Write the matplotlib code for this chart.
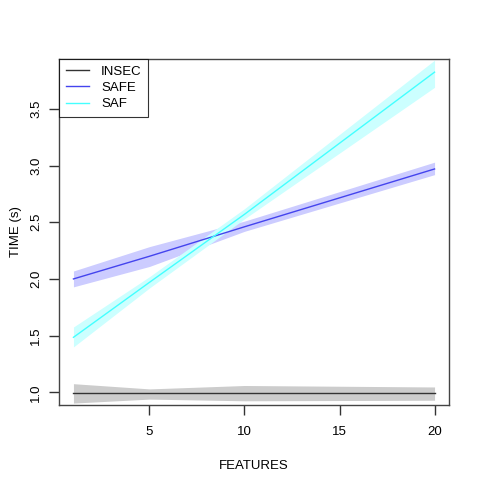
import numpy as np
import matplotlib.pyplot as plt

plt.rcParams['font.family'] = ['Liberation Sans', 'DejaVu Sans']

# data
features = [1, 5, 10, 20]

insec_mean = [0.99, 0.99, 0.99, 0.99]
insec_low = [0.905, 0.94, 0.925, 0.93]
insec_high = [1.076, 1.03, 1.06, 1.047]

safe_mean = [2.00, 2.20, 2.46, 2.97]
safe_low = [1.93, 2.11, 2.42, 2.92]
safe_high = [2.07, 2.285, 2.51, 3.03]

saf_mean = [1.485, 1.97, 2.57, 3.824]
saf_low = [1.40, 1.92, 2.53, 3.69]
saf_high = [1.576, 2.02, 2.62, 3.93]

fig = plt.figure(figsize=(4.8, 4.8), dpi=100)
ax = fig.add_axes([59 / 480, 1 - 405 / 480, 390 / 480, 346 / 480])

ax.fill_between(features, insec_low, insec_high, color='#cccccc', lw=0)
ax.fill_between(features, safe_low, safe_high, color='#ccccff', lw=0)
ax.fill_between(features, saf_low, saf_high, color='#ccffff', lw=0)

ax.plot(features, insec_mean, color='#333333', lw=1, label='INSEC')
ax.plot(features, safe_mean, color='#4444ee', lw=1, label='SAFE')
ax.plot(features, saf_mean, color='#44ffff', lw=1, label='SAF')

ax.set_xlim(0.24, 20.76)
ax.set_ylim(0.888, 3.94)
ax.set_xticks([5, 10, 15, 20])
ax.set_yticks([1.0, 1.5, 2.0, 2.5, 3.0, 3.5])
ax.set_yticklabels(['1.0', '1.5', '2.0', '2.5', '3.0', '3.5'], rotation=90, va='center')

ax.tick_params(axis='both', direction='out', length=7, width=1, labelsize=9.5, colors='#333333',
               labelcolor='black')
ax.tick_params(axis='x', pad=8)
ax.tick_params(axis='y', pad=5)
for s in ax.spines.values():
    s.set_color('#444444')
    s.set_linewidth(1)

ax.set_xlabel('FEATURES', fontsize=9.5, labelpad=16)
ax.set_ylabel('TIME (s)', fontsize=9.5, labelpad=6)

leg = ax.legend(loc='upper left', borderaxespad=0, fancybox=False, fontsize=9.5,
                handlelength=1.8, handletextpad=0.9, labelspacing=0.3, borderpad=0.5)
leg.get_frame().set_edgecolor('black')
leg.get_frame().set_linewidth(0.8)

fig.savefig('out.png', dpi=100)
